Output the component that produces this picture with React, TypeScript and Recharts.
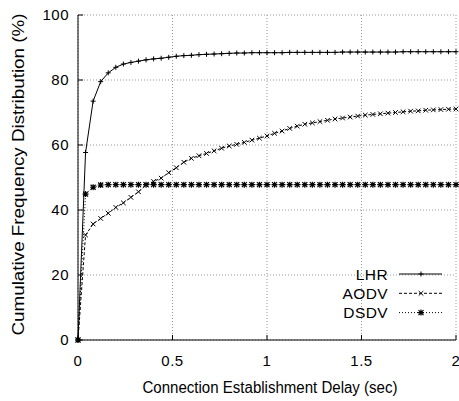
import { CartesianGrid, Legend, Line, LineChart, XAxis, YAxis } from 'recharts'

const delays = [
  0, 0.04, 0.08, 0.12, 0.16, 0.2, 0.24, 0.28, 0.32, 0.36,
  0.4, 0.44, 0.48, 0.52, 0.56, 0.6, 0.64, 0.68, 0.72, 0.76,
  0.8, 0.84, 0.88, 0.92, 0.96, 1, 1.04, 1.08, 1.12, 1.16,
  1.2, 1.24, 1.28, 1.32, 1.36, 1.4, 1.44, 1.48, 1.52, 1.56,
  1.6, 1.64, 1.68, 1.72, 1.76, 1.8, 1.84, 1.88, 1.92, 1.96, 2,
]

const lhr = [
  0, 57.7, 73.5, 79.5, 82.2, 83.9, 84.9, 85.4, 85.8, 86.2,
  86.5, 86.7, 87.0, 87.3, 87.5, 87.6, 87.8, 87.9, 88.0, 88.1,
  88.2, 88.3, 88.3, 88.4, 88.4, 88.4, 88.4, 88.4, 88.5, 88.5,
  88.5, 88.5, 88.5, 88.5, 88.5, 88.6, 88.6, 88.6, 88.6, 88.6,
  88.6, 88.6, 88.6, 88.7, 88.7, 88.7, 88.7, 88.7, 88.7, 88.7, 88.7,
]

const aodv = [
  0, 32.3, 35.7, 37.4, 39.0, 40.8, 42.2, 43.9, 45.6, 47.7,
  48.8, 49.8, 51.5, 53.0, 54.7, 55.9, 56.7, 57.4, 58.2, 59.0,
  59.7, 60.2, 60.8, 61.5, 62.1, 62.8, 63.6, 64.3, 65.1, 65.8,
  66.4, 66.8, 67.2, 67.6, 68.0, 68.3, 68.6, 68.9, 69.2, 69.4,
  69.6, 69.8, 70.0, 70.2, 70.4, 70.5, 70.7, 70.8, 70.9, 71.0, 71.1,
]

const dsdv = [
  0, 44.9, 47.0, 47.7, 47.8, 47.8, 47.8, 47.8, 47.8, 47.8,
  47.8, 47.8, 47.8, 47.8, 47.8, 47.8, 47.8, 47.8, 47.8, 47.8,
  47.8, 47.8, 47.8, 47.8, 47.8, 47.8, 47.8, 47.8, 47.8, 47.8,
  47.8, 47.8, 47.8, 47.8, 47.8, 47.8, 47.8, 47.8, 47.8, 47.8,
  47.8, 47.8, 47.8, 47.8, 47.8, 47.8, 47.8, 47.8, 47.8, 47.8, 47.8,
]

const xTicks = [0, 0.5, 1, 1.5, 2]
const yTicks = [0, 20, 40, 60, 80, 100]

const data = delays.map((d, i) => ({ delay: d, LHR: lhr[i], AODV: aodv[i], DSDV: dsdv[i] }))

const FONT = '"Liberation Sans", Arial, sans-serif'
const TICK_LEN = 5

// gnuplot style point shapes
const PlusDot = (props: any) => {
  const { cx, cy } = props
  if (cx == null || cy == null) return null
  return <path d={`M${cx - 2.5},${cy}h5M${cx},${cy - 2.5}v5`} stroke="#000" strokeWidth={1} fill="none" />
}
const CrossDot = (props: any) => {
  const { cx, cy } = props
  if (cx == null || cy == null) return null
  return <path d={`M${cx - 2.3},${cy - 2.3}l4.6,4.6M${cx - 2.3},${cy + 2.3}l4.6,-4.6`} stroke="#000" strokeWidth={1} fill="none" />
}
const StarDot = (props: any) => {
  const { cx, cy } = props
  if (cx == null || cy == null) return null
  return (
    <path
      d={`M${cx - 2.5},${cy - 2.5}l5,5M${cx - 2.5},${cy + 2.5}l5,-5M${cx - 3},${cy}h6M${cx},${cy - 3}v6`}
      stroke="#000"
      strokeWidth={1.2}
      fill="none"
    />
  )
}

const BottomTick = (props: any) => {
  const { x, y, payload } = props
  const axisY = y - 15
  return (
    <g>
      <line x1={x} x2={x} y1={axisY} y2={axisY - TICK_LEN} stroke="#000" />
      <text x={x} y={y} dy="0.71em" textAnchor="middle" fontSize={15} letterSpacing={0.5} fill="#000" fontFamily={FONT}>
        {payload.value}
      </text>
    </g>
  )
}

const LeftTick = (props: any) => {
  const { x, y, payload } = props
  const axisX = x + 9
  return (
    <g>
      <line x1={axisX} x2={axisX + TICK_LEN} y1={y} y2={y} stroke="#000" />
      <text x={x} y={y} dy="0.36em" textAnchor="end" fontSize={15} letterSpacing={0.5} fill="#000" fontFamily={FONT}>
        {payload.value}
      </text>
    </g>
  )
}

const TopTick = (props: any) => {
  const { x, y } = props
  return <line x1={x} x2={x} y1={y} y2={y + TICK_LEN} stroke="#000" />
}

const RightTick = (props: any) => {
  const { x, y } = props
  return <line x1={x} x2={x - TICK_LEN} y1={y} y2={y} stroke="#000" />
}

const XTitle = (props: any) => {
  const { viewBox } = props
  const cx = viewBox.x + viewBox.width / 2 + 3
  const by = viewBox.y + viewBox.height - 8
  return (
    <text
      x={cx}
      y={by}
      textAnchor="middle"
      fontSize={16}
      fontFamily={FONT}
      fill="#000"
      textLength={255}
      lengthAdjust="spacingAndGlyphs"
    >
      Connection Establishment Delay (sec)
    </text>
  )
}

const YTitle = (props: any) => {
  const { viewBox } = props
  const cy = viewBox.y + viewBox.height / 2 - 3
  return (
    <text
      transform={`translate(24,${cy}) rotate(-90)`}
      textAnchor="middle"
      fontSize={16}
      fontFamily={FONT}
      fill="#000"
      textLength={322}
      lengthAdjust="spacingAndGlyphs"
    >
      Cumulative Frequency Distribution (%)
    </text>
  )
}

const legendRows = [
  { name: 'LHR', dash: undefined, Dot: PlusDot },
  { name: 'AODV', dash: '3 2', Dot: CrossDot },
  { name: 'DSDV', dash: '1 2', Dot: StarDot },
]

const LegendBox = () => (
  <svg width={150} height={60} style={{ overflow: 'visible' }}>
    {legendRows.map((r, i) => {
      const y = 10 + i * 19.3
      return (
        <g key={r.name}>
          <text x={88} y={y} dy="0.36em" textAnchor="end" fontSize={15.5} letterSpacing={0.4} fontFamily={FONT} fill="#000">
            {r.name}
          </text>
          <line x1={99} x2={142} y1={y} y2={y} stroke="#000" strokeDasharray={r.dash} />
          <r.Dot cx={121} cy={y} />
        </g>
      )
    })}
  </svg>
)

export default function App() {
  return (
    <div>
      <style>{'body{margin:0}'}</style>
      <LineChart
        width={459}
        height={401}
        data={data}
        margin={{ top: 15, right: 3, left: 0, bottom: 0 }}
        style={{ fontFamily: FONT, background: '#fff' }}
      >
        <CartesianGrid stroke="#999" strokeDasharray="1 2" />
        <XAxis
          dataKey="delay"
          type="number"
          domain={[0, 2]}
          ticks={xTicks}
          height={61}
          tickSize={0}
          tickMargin={15}
          tickLine={false}
          axisLine={{ stroke: '#000' }}
          tick={<BottomTick />}
          interval={0}
          label={<XTitle />}
        />
        <XAxis
          xAxisId="top"
          dataKey="delay"
          type="number"
          orientation="top"
          domain={[0, 2]}
          ticks={xTicks}
          height={0}
          tickSize={0}
          tickMargin={0}
          tickLine={false}
          axisLine={{ stroke: '#000' }}
          tick={<TopTick />}
          interval={0}
        />
        <YAxis
          type="number"
          domain={[0, 100]}
          ticks={yTicks}
          width={78}
          tickSize={0}
          tickMargin={9}
          tickLine={false}
          axisLine={{ stroke: '#000' }}
          tick={<LeftTick />}
          interval={0}
          label={<YTitle />}
        />
        <YAxis
          yAxisId="right"
          orientation="right"
          type="number"
          domain={[0, 100]}
          ticks={yTicks}
          width={0}
          tickSize={0}
          tickMargin={0}
          tickLine={false}
          axisLine={{ stroke: '#000' }}
          tick={<RightTick />}
          interval={0}
        />
        <Line
          dataKey="LHR"
          type="linear"
          stroke="#000"
          strokeWidth={1}
          dot={<PlusDot />}
          isAnimationActive={false}
        />
        <Line
          dataKey="AODV"
          type="linear"
          stroke="#000"
          strokeWidth={1}
          strokeDasharray="3 2"
          dot={<CrossDot />}
          isAnimationActive={false}
        />
        <Line
          dataKey="DSDV"
          type="linear"
          stroke="#000"
          strokeWidth={1}
          strokeDasharray="1 2"
          dot={<StarDot />}
          isAnimationActive={false}
        />
        <Legend
          layout="vertical"
          align="center"
          verticalAlign="middle"
          wrapperStyle={{ left: 300, top: 264, width: 150, height: 60 }}
          content={<LegendBox />}
        />
      </LineChart>
    </div>
  )
}
